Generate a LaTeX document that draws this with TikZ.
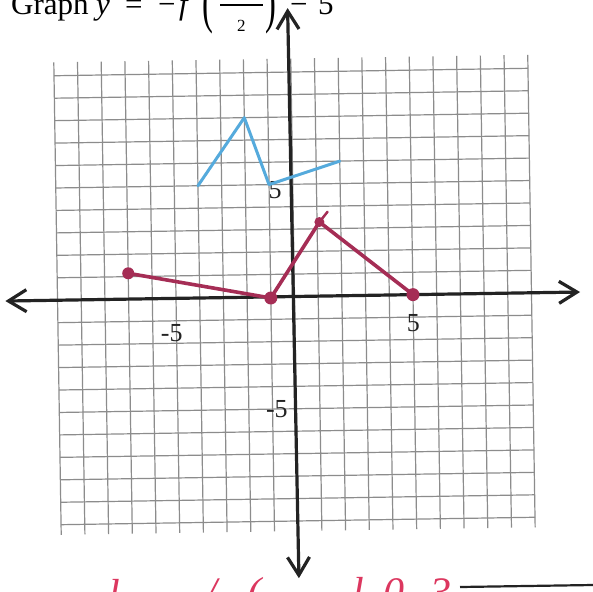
\documentclass[tikz,border=0pt]{standalone}
\usepackage{fontspec}
\setmainfont{Liberation Serif}
\usetikzlibrary{arrows.meta}
\definecolor{gridgray}{RGB}{140,140,140}
\definecolor{redline}{RGB}{165,45,85}
\definecolor{blueline}{RGB}{85,170,220}
\definecolor{penred}{RGB}{220,55,95}
\definecolor{axisblack}{RGB}{35,35,35}
\begin{document}
\begin{tikzpicture}[x=1pt,y=1pt,
  gridline/.style={draw=gridgray,line width=1.2pt},
  axisline/.style={draw=axisblack,line width=3.2pt,
    {Straight Barb[length=18pt,width=22pt]}-{Straight Barb[length=18pt,width=22pt]}},
  titletxt/.style={inner sep=0pt,anchor=base west,font=\fontsize{31}{31}\selectfont},
  lbl/.style={inner sep=0pt,font=\fontsize{26}{26}\selectfont,text=axisblack},
  redpath/.style={draw=redline,line width=3.6pt,line join=round,line cap=round},
  bluepath/.style={draw=blueline,line width=3pt,line join=round,line cap=round},
  reddot/.style={fill=redline},
  hand/.style={inner sep=0pt,anchor=base west,text=penred,font=\fontsize{42}{42}\selectfont\itshape}]
\useasboundingbox (0,-591) rectangle (593,0);
\clip (0,-591) rectangle (593,0);
\fill[white] (0,-591) rectangle (593,0);

% title (top part cut off by the page edge)
\node[titletxt] (tgraph) at (11,-15) {Graph};
\node[titletxt] (ty) at (96,-15) {\itshape y};
\node[titletxt] (teq) at (125,-15) {=};
\node[titletxt] (tminus) at (158,-15) {−};
\node[titletxt] (tf) at (179,-15) {\itshape f};
\node[titletxt] (tlp) at (202,-21.5) {\scalebox{1.05}[1.9]{(}};
\coordinate (barl) at (220,-5);
\coordinate (barr) at (263,-5);
\draw[line width=1.5pt] (barl) -- (barr);
\node[titletxt,font=\fontsize{17}{17}\selectfont] (ttwo) at (237,-32) {2};
\node[titletxt] (trp) at (265,-21.5) {\scalebox{1.05}[1.9]{)}};
\node[titletxt] (tminus2) at (290,-15) {−};
\node[titletxt] (tfive) at (318,-15) {5};

\begin{scope}[shift={(294.5pt,-296.5pt)},rotate=0.9,x=23.7pt,y=22.45pt]
  % grid
  \foreach \i in {-10,...,10} {
    \draw[gridline] (\i,-10.45) -- (\i,10.6);
    \draw[gridline] (-10,\i) -- (10,\i);
  }
  % axes
  \coordinate (xl) at (-12.2,0);
  \coordinate (xr) at (12.05,0);
  \coordinate (yt) at (-0.1,12.85);
  \coordinate (yb) at (0,-12.55);
  \draw[axisline] (xl) -- (xr);
  \draw[axisline] (yb) -- (yt);
  % axis labels
  \node[lbl] (lxm) at (-5.2,-1.55) {-5};
  \node[lbl] (lxp) at (5.0,-1.27) {5};
  \node[lbl] (lyp) at (-0.75,4.74) {5};
  \node[lbl] (lym) at (-0.82,-4.99) {-5};
  % blue graph
  \coordinate (b1) at (-4,5);
  \coordinate (b2) at (-2,8);
  \coordinate (b3) at (-1,5);
  \coordinate (b4) at (2,6);
  \draw[bluepath] (b1) -- (b2) -- (b3) -- (b4);
  % red graph
  \coordinate (r1) at (-7,1.15);
  \coordinate (r2) at (-1,-0.05);
  \coordinate (r3) at (1.1,3.3);
  \coordinate (r4) at (5,0);
  \coordinate (r3t) at (1.45,3.75);
  \draw[redpath] (r1) -- (r2) -- (r3) -- (r4);
  \draw[redpath,line width=2.5pt] (r3) -- (r3t);
  \fill[reddot] (r1) circle (6pt);
  \fill[reddot] (r2) circle (6.5pt);
  \fill[reddot] (r3) circle (5pt);
  \fill[reddot] (r4) circle (6.5pt);
\end{scope}

% handwriting cut off at the bottom edge
\node[hand] (h1) at (108,-608) {l};
\node[hand] (h2) at (205,-606) {/};
\node[hand] (h3) at (247,-606) {(};
\node[hand] (h4) at (352,-606) {l};
\node[hand] (h5) at (383,-606) {0};
\node[hand] (h6) at (430,-606) {3};
% paper edge line at the bottom right
\coordinate (e1) at (460,-587);
\coordinate (e2) at (593,-585);
\draw[axisblack,line width=2.2pt] (e1) -- (e2);
\end{tikzpicture}
\end{document}
